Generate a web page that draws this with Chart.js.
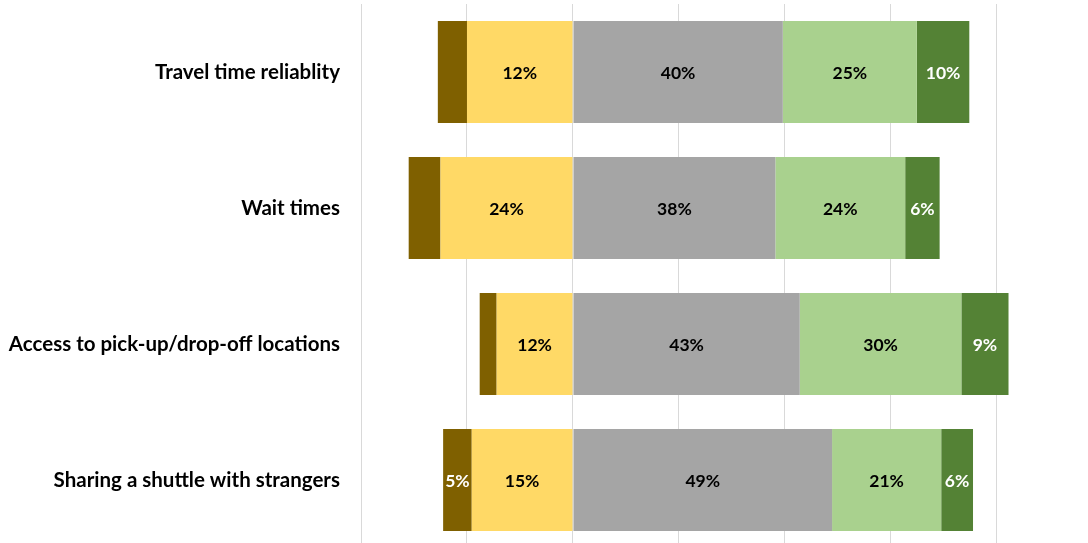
<!DOCTYPE html>
<html>
<head>
<meta charset="utf-8">
<script src="https://cdn.jsdelivr.net/npm/chart.js"></script>
<style>
  html, body { margin: 0; padding: 0; background: #fff; overflow: hidden; }
  #wrap { width: 1088px; height: 543px; overflow: hidden; }
</style>
</head>
<body>
<div id="wrap"><canvas id="chart" width="1088" height="548"></canvas></div>
<script>
//-------------------- DATA --------------------
const categories = [
    'Travel time reliablity',
    'Wait times',
    'Access to pick-up/drop-off locations',
    'Sharing a shuttle with strangers'
];

// bar lengths as drawn (percent points, left side negative)
const negative     = [-20.0, -25.0, -14.4, -19.1];
const veryNegative = [-5.5, -6.0, -3.2, -5.4];
const neutral      = [39.6, 38.2, 42.8, 48.9];
const positive     = [25.3, 24.5, 30.5, 20.6];
const veryPositive = [9.9, 6.5, 8.9, 6.0];

// labels printed inside the segments
const negativeLabels     = ['12%', '24%', '12%', '15%'];
const veryNegativeLabels = ['', '', '', '5%'];
const neutralLabels      = ['40%', '38%', '43%', '49%'];
const positiveLabels     = ['25%', '24%', '30%', '21%'];
const veryPositiveLabels = ['10%', '6%', '9%', '6%'];

//-------------------- SETUP --------------------
const data = {
    labels: categories,
    datasets: [
        { data: negative, backgroundColor: '#FFD966', segLabels: negativeLabels, labelColor: '#000' },
        { data: veryNegative, backgroundColor: '#7F6000', segLabels: veryNegativeLabels, labelColor: '#fff' },
        { data: neutral, backgroundColor: '#A5A5A5', segLabels: neutralLabels, labelColor: '#000' },
        { data: positive, backgroundColor: '#A9D18E', segLabels: positiveLabels, labelColor: '#000' },
        { data: veryPositive, backgroundColor: '#548235', segLabels: veryPositiveLabels, labelColor: '#fff' }
    ]
};

// simple inline label plugin (no datalabels plugin available)
const segmentLabels = {
    id: 'segmentLabels',
    afterDatasetsDraw(chart) {
        const ctx = chart.ctx;
        ctx.save();
        ctx.font = 'bold 17.5px Lato';
        ctx.textAlign = 'center';
        ctx.textBaseline = 'middle';
        chart.data.datasets.forEach((ds, i) => {
            const meta = chart.getDatasetMeta(i);
            meta.data.forEach((bar, j) => {
                const txt = ds.segLabels[j];
                if (!txt) return;
                const p = bar.getProps(['x', 'y', 'base'], true);
                ctx.fillStyle = ds.labelColor;
                ctx.fillText(txt, (p.x + p.base) / 2, p.y + 1);
            });
        });
        ctx.restore();
    }
};

//-------------------- CONFIG --------------------
const config = {
    type: 'bar',
    data,
    plugins: [segmentLabels],
    options: {
        indexAxis: 'y',
        responsive: false,
        animation: false,
        layout: { padding: { top: 4, left: 0, right: 0, bottom: 0 } },
        datasets: {
            bar: { categoryPercentage: 1, barPercentage: 0.75, borderWidth: 0 }
        },
        plugins: {
            legend: { display: false },
            tooltip: { enabled: false }
        },
        scales: {
            x: {
                stacked: true,
                min: -40,
                max: 97.2,
                border: { display: false },
                grid: { color: '#D9D9D9', lineWidth: 1, drawTicks: false },
                ticks: { display: false, stepSize: 20, includeBounds: false },
                afterFit(scale) { scale.height = 0; scale.paddingLeft = 0; scale.paddingRight = 0; }
            },
            y: {
                stacked: true,
                border: { display: false },
                grid: { display: false, drawTicks: false },
                ticks: {
                    color: '#000',
                    padding: 21,
                    font: { family: 'Lato', weight: 'bold', size: 20.5 }
                },
                afterFit(scale) {
                    scale.width = 361;
                    scale.paddingTop = 0;
                    scale.paddingBottom = 0;
                }
            }
        }
    }
};

//-------------------- RENDER --------------------
const myChart = new Chart(document.getElementById('chart'), config);
</script>
</body>
</html>
